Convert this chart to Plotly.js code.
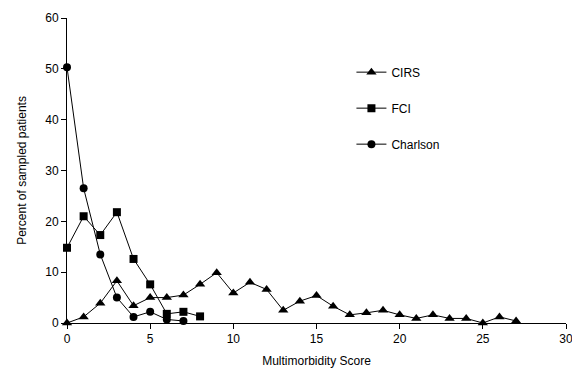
<!DOCTYPE html>
<html><head><meta charset="utf-8">
<script src="https://cdn.plot.ly/plotly-3.0.1.min.js"></script>
<style>html,body{margin:0;padding:0;background:#fff}#c{width:572px;height:368px}</style>
</head><body><div id="c"></div>
<script>
const cirsX = [0,1,2,3,4,5,6,7,8,9,10,11,12,13,14,15,16,17,18,19,20,21,22,23,24,25,26,27];
const cirsY = [0,1.2,3.9,8.3,3.4,5.0,5.0,5.5,7.6,9.9,5.9,8.0,6.6,2.5,4.3,5.4,3.3,1.6,2.0,2.5,1.6,0.9,1.6,0.9,0.9,0,1.2,0.4];
const fciX = [0,1,2,3,4,5,6,7,8];
const fciY = [14.8,21.0,17.3,21.8,12.6,7.6,1.8,2.2,1.3];
const charlsonX = [0,1,2,3,4,5,6,7];
const charlsonY = [50.3,26.5,13.5,5.0,1.2,2.2,0.7,0.4];
const names = ["CIRS","FCI","Charlson"];
const symbols = ["triangle-up","square","circle"];

const mk = (x,y,i) => ({
  x:x, y:y, name:names[i], type:"scatter", mode:"lines+markers",
  line:{color:"#000",width:1},
  marker:{symbol:symbols[i],color:"#000",size:i===0?9:8},
  cliponaxis:false, legendgroup:"g"+i
});
const data = [mk(cirsX,cirsY,0), mk(fciX,fciY,1), mk(charlsonX,charlsonY,2)];
const layout = {
  width:572, height:368,
  margin:{l:67,r:6,t:18,b:45},
  paper_bgcolor:"#fff", plot_bgcolor:"#fff",
  font:{family:"Liberation Sans, Arial, sans-serif", size:12, color:"#000"},
  showlegend:true,
  legend:{x:0.57, y:0.87, xanchor:"left", yanchor:"top", tracegroupgap:17, font:{size:12}, bgcolor:"rgba(0,0,0,0)"},
  xaxis:{range:[0,30], tickvals:[0,5,10,15,20,25,30], ticks:"outside", ticklen:5, tickcolor:"#000",
         ticklabeloverflow:"allow",
         showline:true, linecolor:"#000", linewidth:1, showgrid:false, zeroline:false,
         title:{text:"Multimorbidity Score", standoff:12, font:{size:12}}, fixedrange:true},
  yaxis:{range:[0,60], tickvals:[0,10,20,30,40,50,60], ticks:"outside", ticklen:5, tickcolor:"#000",
         showline:true, linecolor:"#000", linewidth:1, showgrid:false, zeroline:false,
         title:{text:"Percent of sampled patients", standoff:16, font:{size:12}}}
};
Plotly.newPlot("c", data, layout, {displayModeBar:false, staticPlot:true});
</script></body></html>
